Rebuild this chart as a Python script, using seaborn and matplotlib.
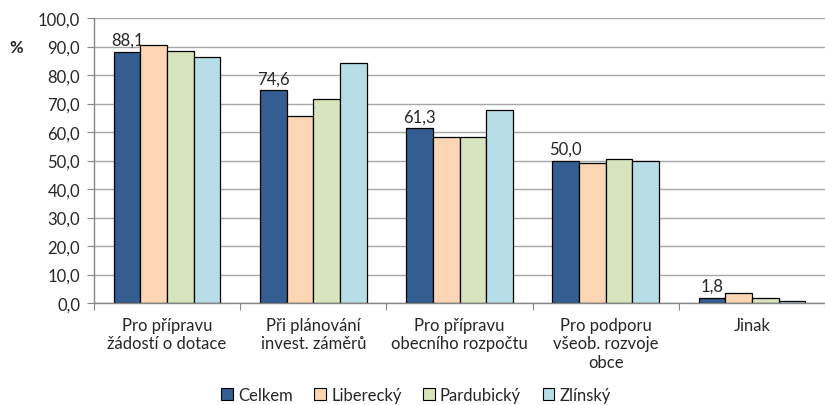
import pandas as pd
import numpy as np
import matplotlib.pyplot as plt
import seaborn as sns

# data
categories = ["Pro přípravu\nžádostí o dotace", "Při plánování\ninvest. záměrů",
              "Pro přípravu\nobecního rozpočtu", "Pro podporu\nvšeob. rozvoje\nobce", "Jinak"]
regions = ["Celkem", "Liberecký", "Pardubický", "Zlínský"]
celkem = [88.1, 74.6, 61.3, 50.0, 1.8]
liberecky = [90.6, 65.5, 58.4, 49.1, 3.6]
pardubicky = [88.3, 71.6, 58.1, 50.5, 1.9]
zlinsky = [86.4, 84.3, 67.8, 50.0, 0.7]
colors = ["#345E91", "#FCD5B5", "#D7E4BD", "#B7DEE8"]

df = pd.DataFrame({
    "kat": categories * 4,
    "kraj": sum([[r] * len(categories) for r in regions], []),
    "val": celkem + liberecky + pardubicky + zlinsky,
})

sns.set_style("white")
plt.rcParams['font.family'] = ['Lato', 'DejaVu Sans']
fs = 12

fig = plt.figure(figsize=(8.25, 4.06), dpi=100)
ax = fig.add_axes([94 / 825, 1 - 304 / 406, (825 - 94) / 825, (304 - 19) / 406])

sns.barplot(data=df, x="kat", y="val", hue="kraj", hue_order=regions, order=categories,
            palette=colors, saturation=1, edgecolor="black", linewidth=0.9, width=0.73,
            ax=ax, errorbar=None)

# only Celkem gets value labels
ax.bar_label(ax.containers[0], labels=[f"{v:.1f}".replace(".", ",") for v in celkem],
             padding=3, fontsize=fs)

ax.set_ylim(0, 100)
ax.set_xlim(-0.5, 4.44)
ax.set_yticks(np.arange(0, 101, 10))
ax.set_yticklabels([f"{v:.1f}".replace(".", ",") for v in np.arange(0, 101, 10)], fontsize=fs)
ax.yaxis.grid(True, color="#A6A6A6", linewidth=1)
ax.set_axisbelow(True)
ax.set_xlabel("")
ax.set_ylabel("")

# x ticks at category borders, labels at centres
ax.set_xticks(np.arange(-0.5, 5, 1), minor=False)
ax.set_xticklabels([])
ax.set_xticks(range(len(categories)), minor=True)
ax.set_xticklabels(categories, minor=True, fontsize=fs, linespacing=1.2)
ax.tick_params(axis="x", which="major", length=5, color="#868686", direction="out", bottom=True)
ax.tick_params(axis="x", which="minor", length=0, pad=10)
ax.tick_params(axis="y", length=5, color="#868686", direction="out", left=True, pad=5)

for s in ["top", "right"]:
    ax.spines[s].set_visible(False)
for s in ["left", "bottom"]:
    ax.spines[s].set_color("#868686")
    ax.spines[s].set_linewidth(1)

fig.text(16 / 825, 1 - 48 / 406, "%", fontsize=fs, fontweight="bold", ha="center", va="center")

ax.legend_.remove()
handles = [plt.Rectangle((0, 0), 1, 1, facecolor=c, edgecolor="black", linewidth=0.8) for c in colors]
fig.legend(handles, regions, loc="center", bbox_to_anchor=(416 / 825, 1 - 396 / 406), ncol=4,
           frameon=False, fontsize=fs, handlelength=0.7, handleheight=0.7, handletextpad=0.3,
           columnspacing=1.3, borderaxespad=0)

fig.savefig("out.png", dpi=100)
